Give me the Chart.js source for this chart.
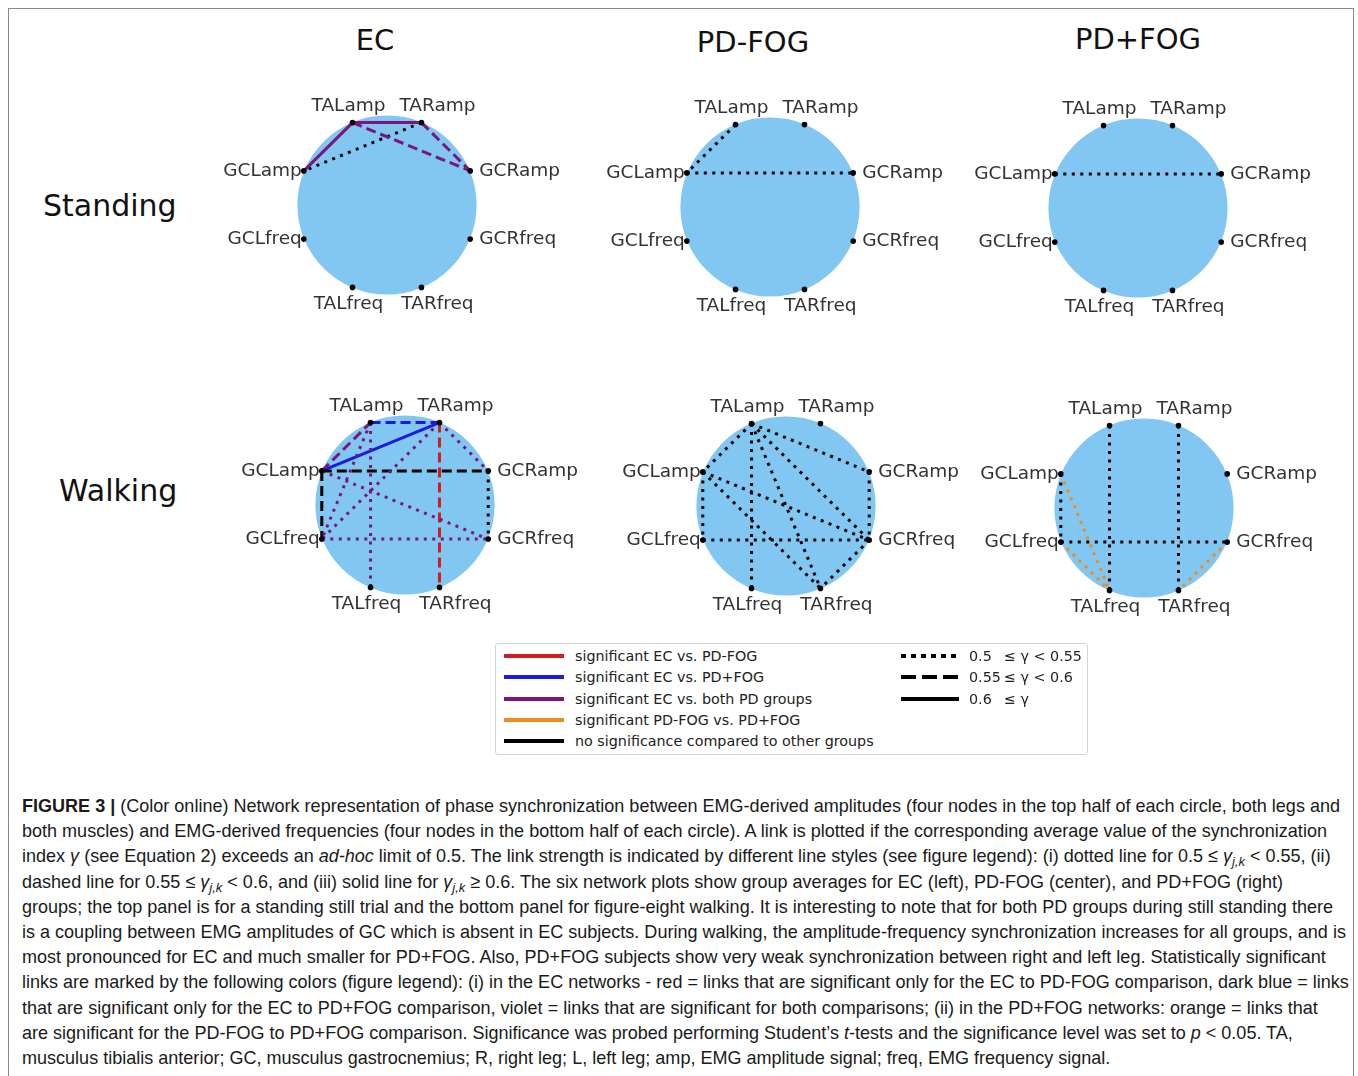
<!DOCTYPE html>
<html>
<head>
<meta charset="utf-8">
<script src="https://cdn.jsdelivr.net/npm/chart.js@4/dist/chart.umd.min.js"></script>
<style>
  html, body { margin: 0; padding: 0; background: #fff; }
  body { width: 1358px; height: 1076px; position: relative; overflow: hidden; font-family: "DejaVu Sans", sans-serif; }
  #frame { position: absolute; left: 8px; top: 8px; width: 1346px; height: 1100px; border: 1.5px solid #8a8a8a; box-sizing: border-box; }
  canvas.net { position: absolute; }
  .title { position: absolute; font-size: 29px; color: #111; transform: translate(-50%, -50%); white-space: nowrap; }
  .rowlab { position: absolute; font-size: 30px; color: #111; transform: translateY(-50%); white-space: nowrap; }
  #legend { position: absolute; left: 495px; top: 643px; width: 593px; height: 112px; border: 1px solid #d4d4d4; border-radius: 3px; box-sizing: border-box; }
  #legend svg { position: absolute; left: 0; top: 0; }
  #legend span { position: absolute; font-size: 14.3px; color: #222; line-height: 16px; white-space: nowrap; }
  #caption { position: absolute; left: 22px; top: 793px; font-family: "Liberation Sans Narrow", "Liberation Sans", Arial, sans-serif; font-size: 19px; line-height: 25.2px; color: #1a1a1a; transform-origin: 0 0; }
  #caption div { white-space: nowrap; }
  #caption sub { font-size: 0.72em; line-height: 0; vertical-align: -0.3em; }
</style>
</head>
<body>
<div id="frame"></div>

<div class="title" style="left:375px; top:40px;">EC</div>
<div class="title" style="left:753px; top:42px;">PD-FOG</div>
<div class="title" style="left:1138px; top:39px;">PD+FOG</div>
<div class="rowlab" style="left:43px; top:205px;">Standing</div>
<div class="rowlab" style="left:59px; top:490px;">Walking</div>

<canvas class="net" id="net0"></canvas>
<canvas class="net" id="net1"></canvas>
<canvas class="net" id="net2"></canvas>
<canvas class="net" id="net3"></canvas>
<canvas class="net" id="net4"></canvas>
<canvas class="net" id="net5"></canvas>

<div id="legend">
  <svg width="593" height="112">
    <line x1="8" y1="12" x2="68" y2="12" stroke="#d01c1c" stroke-width="4"/>
    <line x1="8" y1="33" x2="68" y2="33" stroke="#1a1ae0" stroke-width="4"/>
    <line x1="8" y1="55" x2="68" y2="55" stroke="#7b177b" stroke-width="4"/>
    <line x1="8" y1="76" x2="68" y2="76" stroke="#f08c1e" stroke-width="4"/>
    <line x1="8" y1="97" x2="68" y2="97" stroke="#000" stroke-width="4"/>
    <line x1="405" y1="12" x2="463" y2="12" stroke="#000" stroke-width="4" stroke-dasharray="5 5"/>
    <line x1="405" y1="33" x2="463" y2="33" stroke="#000" stroke-width="4" stroke-dasharray="15 6"/>
    <line x1="405" y1="55" x2="463" y2="55" stroke="#000" stroke-width="4"/>
  </svg>
  <span style="left:79px; top:4px;">significant EC vs. PD-FOG</span>
  <span style="left:79px; top:25px;">significant EC vs. PD+FOG</span>
  <span style="left:79px; top:47px;">significant EC vs. both PD groups</span>
  <span style="left:79px; top:68px;">significant PD-FOG vs. PD+FOG</span>
  <span style="left:79px; top:89px;">no significance compared to other groups</span>
  <span style="left:473px; top:4px;">0.5</span><span style="left:508px; top:4px;">≤ γ &lt; 0.55</span>
  <span style="left:473px; top:25px;">0.55</span><span style="left:508px; top:25px;">≤ γ &lt; 0.6</span>
  <span style="left:473px; top:47px;">0.6</span><span style="left:508px; top:47px;">≤ γ</span>
</div>

<div id="caption">
<div><b>FIGURE 3 |</b> (Color online) Network representation of phase synchronization between EMG-derived amplitudes (four nodes in the top half of each circle, both legs and</div>
<div>both muscles) and EMG-derived frequencies (four nodes in the bottom half of each circle). A link is plotted if the corresponding average value of the synchronization</div>
<div>index <i>γ</i> (see Equation 2) exceeds an <i>ad-hoc</i> limit of 0.5. The link strength is indicated by different line styles (see figure legend): (i) dotted line for 0.5 ≤ <i>γ</i><sub><i>j,k</i></sub> &lt; 0.55, (ii)</div>
<div>dashed line for 0.55 ≤ <i>γ</i><sub><i>j,k</i></sub> &lt; 0.6, and (iii) solid line for <i>γ</i><sub><i>j,k</i></sub> ≥ 0.6. The six network plots show group averages for EC (left), PD-FOG (center), and PD+FOG (right)</div>
<div>groups; the top panel is for a standing still trial and the bottom panel for figure-eight walking. It is interesting to note that for both PD groups during still standing there</div>
<div>is a coupling between EMG amplitudes of GC which is absent in EC subjects. During walking, the amplitude-frequency synchronization increases for all groups, and is</div>
<div>most pronounced for EC and much smaller for PD+FOG. Also, PD+FOG subjects show very weak synchronization between right and left leg. Statistically significant</div>
<div>links are marked by the following colors (figure legend): (i) in the EC networks - red = links that are significant only for the EC to PD-FOG comparison, dark blue = links</div>
<div>that are significant only for the EC to PD+FOG comparison, violet = links that are significant for both comparisons; (ii) in the PD+FOG networks: orange = links that</div>
<div>are significant for the PD-FOG to PD+FOG comparison. Significance was probed performing Student’s <i>t</i>-tests and the significance level was set to <i>p</i> &lt; 0.05. TA,</div>
<div>musculus tibialis anterior; GC, musculus gastrocnemius; R, right leg; L, left leg; amp, EMG amplitude signal; freq, EMG frequency signal.</div>
</div>

<script>
// nodes, clockwise from the top right
const nodeNames = ["TARamp", "GCRamp", "GCRfreq", "TARfreq", "TALfreq", "GCLfreq", "GCLamp", "TALamp"];

// links: [node, node, lower bound of the gamma bin, significance]
const standingEC = [
  ["TALamp", "TARamp", 0.6, "both"],
  ["TALamp", "GCLamp", 0.6, "both"],
  ["TALamp", "GCRamp", 0.55, "both"],
  ["TARamp", "GCRamp", 0.55, "both"],
  ["TARamp", "GCLamp", 0.5, "none"],
];
const standingPDminus = [
  ["TALamp", "GCLamp", 0.5, "none"],
  ["GCLamp", "GCRamp", 0.5, "none"],
];
const standingPDplus = [
  ["GCLamp", "GCRamp", 0.5, "none"],
];
const walkingEC = [
  ["TALamp", "TALfreq", 0.5, "both"],
  ["TARamp", "GCRamp", 0.5, "both"],
  ["TARamp", "GCLfreq", 0.5, "both"],
  ["TALamp", "GCLfreq", 0.5, "both"],
  ["GCLamp", "GCRfreq", 0.5, "both"],
  ["GCLfreq", "GCRfreq", 0.5, "both"],
  ["GCRamp", "GCRfreq", 0.5, "none"],
  ["GCLamp", "GCRamp", 0.55, "none"],
  ["GCLamp", "GCLfreq", 0.55, "none"],
  ["TARamp", "TARfreq", 0.55, "ecVsMinus"],
  ["GCLamp", "TALamp", 0.55, "both"],
  ["TALamp", "TARamp", 0.55, "ecVsPlus"],
  ["GCLamp", "TARamp", 0.6, "ecVsPlus"],
];
const walkingPDminus = [
  ["TALamp", "GCLamp", 0.5, "none"],
  ["TALamp", "TALfreq", 0.5, "none"],
  ["TALamp", "GCRamp", 0.5, "none"],
  ["TALamp", "GCRfreq", 0.5, "none"],
  ["TALamp", "TARfreq", 0.5, "none"],
  ["GCLamp", "GCLfreq", 0.5, "none"],
  ["GCLamp", "GCRfreq", 0.5, "none"],
  ["GCLamp", "TARfreq", 0.5, "none"],
  ["GCLfreq", "GCRfreq", 0.5, "none"],
  ["GCRamp", "GCRfreq", 0.5, "none"],
  ["GCRfreq", "TARfreq", 0.5, "none"],
];
const walkingPDplus = [
  ["TALamp", "TALfreq", 0.5, "none"],
  ["TARamp", "TARfreq", 0.5, "none"],
  ["GCLamp", "GCLfreq", 0.5, "none"],
  ["GCLfreq", "GCRfreq", 0.5, "none"],
  ["GCLamp", "TALfreq", 0.5, "pdVsPd"],
  ["GCLfreq", "TALfreq", 0.5, "pdVsPd"],
  ["GCRfreq", "TARfreq", 0.5, "pdVsPd"],
];

const panels = [standingEC, standingPDminus, standingPDplus, walkingEC, walkingPDminus, walkingPDplus];
// panel centres on the page (px)
const centres = [[387, 205], [770, 207], [1138, 208], [405, 505], [786, 506], [1144, 508]];

const sigColors = { ecVsMinus: "#d01c1c", ecVsPlus: "#1a1ae0", both: "#7b177b", pdVsPd: "#f08c1e", none: "#000000" };
function dashFor(g) {
  if (g >= 0.6) return [];
  if (g >= 0.55) return [10, 5];
  return [3, 5.5];
}

const W = 380, H = 260, UNIT = 92;   // px per unit radius
const XR = W / 2 / UNIT, YR = H / 2 / UNIT;

function nodePos(name) {
  const k = nodeNames.indexOf(name);
  const a = (67.5 - 45 * k) * Math.PI / 180;
  return { x: Math.cos(a), y: Math.sin(a) };
}

const discPlugin = {
  id: "disc",
  beforeDatasetsDraw(chart) {
    const { ctx, scales: { x, y } } = chart;
    const cx = x.getPixelForValue(0), cy = y.getPixelForValue(0);
    const r = x.getPixelForValue(0.995) - cx;
    ctx.save();
    ctx.beginPath();
    ctx.arc(cx, cy, r, 0, 2 * Math.PI);
    ctx.fillStyle = "#82c6f2";
    ctx.fill();
    ctx.restore();
  }
};

const labelPlugin = {
  id: "nodeLabels",
  afterDatasetsDraw(chart) {
    const ctx = chart.ctx;
    const meta = chart.getDatasetMeta(chart.data.datasets.length - 1);
    ctx.save();
    ctx.font = '18.5px "DejaVu Sans"';
    ctx.fillStyle = "#333";
    ctx.textBaseline = "middle";
    meta.data.forEach((pt, i) => {
      const name = nodeNames[i];
      const left = name.charAt(2) === "L";
      let x = pt.x, y = pt.y;
      if (name.startsWith("GC")) {
        ctx.textAlign = left ? "right" : "left";
        x += left ? -2 : 9;
      } else {
        ctx.textAlign = "center";
        x += left ? -4 : 16;
        y += name.endsWith("amp") ? -16 : 17;
      }
      ctx.fillText(name, x, y);
    });
    ctx.restore();
  }
};

panels.forEach((links, p) => {
  const cv = document.getElementById("net" + p);
  cv.width = W; cv.height = H;
  cv.style.left = (centres[p][0] - W / 2) + "px";
  cv.style.top = (centres[p][1] - H / 2) + "px";

  const datasets = links.map(l => ({
    data: [nodePos(l[0]), nodePos(l[1])],
    showLine: true,
    borderColor: sigColors[l[3]],
    borderWidth: 3,
    borderDash: dashFor(l[2]),
    pointRadius: 0,
    order: 1
  }));
  datasets.push({
    data: nodeNames.map(nodePos),
    showLine: false,
    pointRadius: 2.8,
    pointBackgroundColor: "#000",
    pointBorderWidth: 0,
    order: 0
  });

  new Chart(cv, {
    type: "scatter",
    data: { datasets: datasets },
    options: {
      responsive: false,
      animation: false,
      events: [],
      layout: { padding: 0 },
      plugins: { legend: { display: false }, tooltip: { enabled: false } },
      scales: {
        x: { type: "linear", min: -XR, max: XR, display: false },
        y: { type: "linear", min: -YR, max: YR, display: false }
      }
    },
    plugins: [discPlugin, labelPlugin]
  });
});

// squeeze the caption to the width of the printed column
const cap = document.getElementById("caption");
const first = cap.firstElementChild;
const range = document.createRange();
range.selectNodeContents(first);
const w = range.getBoundingClientRect().width;
cap.style.transform = "scaleX(" + (1318 / w) + ")";
</script>
</body>
</html>
